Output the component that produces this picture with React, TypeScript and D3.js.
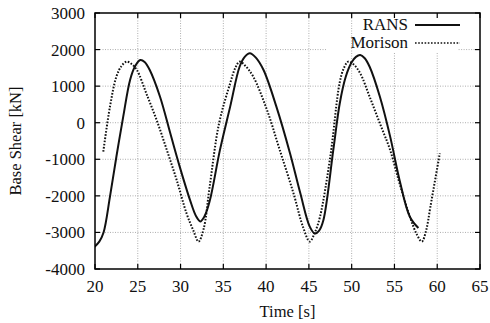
import * as d3 from "d3";

// time [s], base shear [kN]
const ransT = [19.9, 20.5, 21.0, 21.75, 22.5, 23.3, 24.1, 24.7, 25.3, 25.8, 26.4, 27.6, 28.8, 29.9, 31.1, 31.8, 32.3, 32.8, 33.4, 34.6, 35.8, 36.9, 37.5, 38.1, 38.8, 39.7, 41.2, 42.8, 44.0, 45.1, 45.7, 46.2, 46.7, 47.85, 48.6, 49.3, 50.0, 50.5, 51.0, 51.5, 52.1, 53.3, 54.5, 55.6, 56.8, 57.8];
const ransV = [-3400, -3250, -3000, -2020, -930, 165, 1170, 1550, 1715, 1660, 1440, 710, -290, -1200, -2110, -2550, -2700, -2560, -2150, -750, 440, 1530, 1800, 1900, 1780, 1440, 440, -840, -1930, -2840, -3030, -2950, -2660, -750, 520, 1250, 1650, 1800, 1850, 1770, 1530, 710, -380, -1570, -2570, -2880];

const morT = [20.97, 21.75, 22.5, 23.1, 23.7, 24.3, 24.9, 26.0, 27.2, 28.4, 29.55, 30.7, 31.5, 32.1, 32.7, 33.4, 34.5, 35.8, 36.4, 36.9, 37.6, 38.5, 40.1, 41.6, 43.2, 44.3, 45.1, 45.7, 46.3, 47.5, 48.6, 49.1, 49.6, 50.2, 51.0, 52.1, 53.3, 54.5, 55.6, 56.8, 57.6, 58.2, 58.7, 59.2, 60.3];
const morV = [-790, 440, 1260, 1550, 1670, 1600, 1440, 800, 75, -750, -1570, -2480, -2950, -3250, -2900, -1750, -20, 1080, 1500, 1670, 1550, 1260, 350, -750, -1930, -2840, -3250, -3000, -2570, -930, 1100, 1500, 1670, 1600, 1350, 710, -20, -750, -1660, -2570, -3050, -3250, -2950, -2300, -840];

const xTicks = [20, 25, 30, 35, 40, 45, 50, 55, 60, 65];
const yTicks = [-4000, -3000, -2000, -1000, 0, 1000, 2000, 3000];
const seriesNames = ["RANS", "Morison"];

export default function App() {
  const W = 490, H = 323;
  const m = { left: 95, right: 10, top: 13, bottom: 54 };
  const x = d3.scaleLinear().domain([20, 65]).range([m.left, W - m.right]);
  const y = d3.scaleLinear().domain([-4000, 3000]).range([H - m.bottom, m.top]);
  const line = d3.line<[number, number]>().x(d => x(d[0])).y(d => y(d[1])).curve(d3.curveCatmullRom);
  const rans = ransT.map((t, i) => [t, ransV[i]] as [number, number]);
  const mor = morT.map((t, i) => [t, morV[i]] as [number, number]);
  const x0 = x(20), x1 = x(65), y0 = y(-4000), y1 = y(3000);

  return (
    <svg width={W} height={H} style={{ position: "absolute", left: 0, top: 0, background: "#fff", fontFamily: "'Liberation Serif', 'DejaVu Serif', serif" }}>
      <defs>
        <clipPath id="plot"><rect x={x0} y={y1} width={x1 - x0} height={y0 - y1} /></clipPath>
      </defs>
      {/* grid */}
      <g stroke="#999" strokeWidth={0.8} strokeDasharray="1,1.5">
        {xTicks.slice(1, -1).map(t => (
          <line key={t} x1={x(t)} x2={x(t)} y1={y0} y2={t >= 55 ? 52 : y1} />
        ))}
        {yTicks.slice(1, -1).map(t => (
          <line key={t} x1={x0} x2={t === 2000 ? x(47) : x1} y1={y(t)} y2={y(t)} />
        ))}
        <line x1={x(62.5)} x2={x1} y1={y(2000)} y2={y(2000)} />
      </g>
      {/* ticks */}
      <g stroke="#000" strokeWidth={1.2}>
        {xTicks.map(t => (
          <g key={t}>
            <line x1={x(t)} x2={x(t)} y1={y0} y2={y0 - 5} />
            <line x1={x(t)} x2={x(t)} y1={y1} y2={y1 + 5} />
          </g>
        ))}
        {yTicks.map(t => (
          <g key={t}>
            <line x1={x0} x2={x0 + 5} y1={y(t)} y2={y(t)} />
            <line x1={x1} x2={x1 - 5} y1={y(t)} y2={y(t)} />
          </g>
        ))}
      </g>
      <g clipPath="url(#plot)" fill="none" stroke="#111">
        <path d={line(rans) ?? ""} strokeWidth={2} />
        <path d={line(mor) ?? ""} strokeWidth={2} strokeDasharray="1.6,1.6" />
      </g>
      <rect x={x0} y={y1} width={x1 - x0} height={y0 - y1} fill="none" stroke="#000" strokeWidth={1.5} />
      {/* tick labels */}
      <g fontSize={17} fill="#111">
        {yTicks.map(t => (
          <text key={t} x={x0 - 10} y={y(t)} dy="0.35em" textAnchor="end">{t}</text>
        ))}
        {xTicks.map(t => (
          <text key={t} x={x(t)} y={y0 + 23} textAnchor="middle">{t}</text>
        ))}
        <text x={(x0 + x1) / 2} y={H - 6} textAnchor="middle" fontSize={16.5}>Time [s]</text>
        <text transform={`translate(21,${(y0 + y1) / 2}) rotate(-90)`} textAnchor="middle" fontSize={16.5}>Base Shear [kN]</text>
      </g>
      {/* legend */}
      <g fontSize={17} fill="#111">
        {seriesNames.map((n, i) => (
          <g key={n}>
            <text x={408} y={30 + i * 18} textAnchor="end">{n}</text>
            <line x1={415} x2={460} y1={25 + i * 18} y2={25 + i * 18} stroke="#111" strokeWidth={i === 0 ? 2 : 1.6} strokeDasharray={i === 0 ? undefined : "1.6,1.6"} />
          </g>
        ))}
      </g>
    </svg>
  );
}
